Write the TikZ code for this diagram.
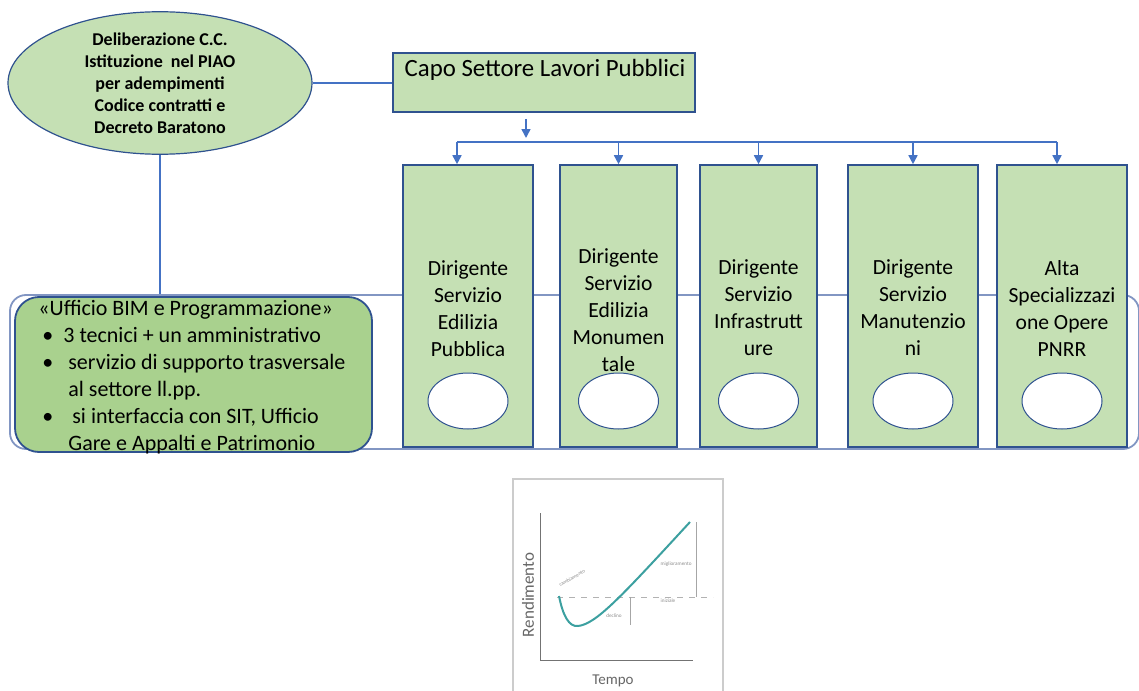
\documentclass[tikz,border=0pt]{standalone}
\usepackage{fontspec}
\setmainfont{Carlito}
\usetikzlibrary{shapes.geometric,arrows.meta}
\definecolor{boxgreen}{RGB}{197,224,180}
\definecolor{bimgreen}{RGB}{169,209,142}
\definecolor{edgeblue}{RGB}{47,82,143}
\definecolor{linkblue}{RGB}{68,114,196}
\definecolor{framegray}{RGB}{130,150,195}
\definecolor{curveteal}{RGB}{60,160,160}
\tikzset{
dirbox/.style={draw=edgeblue, fill=boxgreen, line width=0.8pt, minimum height=141pt, inner sep=0pt},
dirtext/.style={align=center, font=\fontsize{10.8}{13.5}\selectfont},
hole/.style={ellipse, draw=edgeblue, fill=white, line width=0.5pt, minimum width=40pt, minimum height=28pt, inner sep=0pt},
link/.style={draw=linkblue, line width=0.8pt},
arr/.style={link, -{Triangle[length=4.5pt,width=4.5pt]}},
charttext/.style={text=black!60, font=\fontsize{8.5}{9}\selectfont, inner sep=0pt},
tinytext/.style={text=black!45, font=\fontsize{2.6}{3}\selectfont, inner sep=0pt}
}
\newcommand{\dirigente}[5]{%
\node[dirbox, minimum width=#3] (#1) at (#2,306) {};
\node[dirtext] (#1txt) at (#2,#5) {#4};
\node[hole] (#1hole) at (#2,401) {};
}
\newcommand{\bul}[1]{\makebox[#1][l]{\hspace*{2pt}\textbullet}}

\begin{document}
\begin{tikzpicture}[x=0.5pt,y=-0.5pt]
\useasboundingbox (0,0) rectangle (1139,690);

\node[draw=framegray, line width=0.9pt, rounded corners=8pt, minimum width=564.5pt, minimum height=77pt, inner sep=0pt] (frame) at (574.5,372) {};

\node[draw=edgeblue, fill=bimgreen, line width=0.9pt, rounded corners=12pt, minimum width=178.5pt, minimum height=77.5pt, inner sep=0pt] (bim) at (193.5,374.5) {};
\node[anchor=north west, align=left, inner sep=0pt, font=\fontsize{11}{13.5}\selectfont] (bimtxt) at (38,300) {%
«Ufficio BIM e Programmazione»\\
\bul{12.5pt}3 tecnici + un amministrativo\\
\bul{15pt}servizio di supporto trasversale\\
\hspace*{15pt}al settore ll.pp.\\
\bul{17pt}si interfaccia con SIT, Ufficio\\
\hspace*{15pt}Gare e Appalti e Patrimonio};

\node[ellipse, draw=edgeblue, fill=boxgreen, line width=0.6pt, minimum width=152pt, minimum height=71pt, inner sep=0pt, align=center, font=\bfseries\fontsize{9}{11}\selectfont] (delib) at (160,83) {Deliberazione C.C.\\Istituzione\ \ nel PIAO\\per adempimenti\\Codice contratti e\\Decreto Baratono};

\node[draw=edgeblue, fill=boxgreen, line width=0.8pt, minimum width=151pt, minimum height=29.5pt, inner sep=0pt] (capo) at (544,82.5) {};
\node[font=\fontsize{12.4}{14}\selectfont, inner sep=0pt] (capotxt) at (545,70) {Capo Settore Lavori Pubblici};

\dirigente{dep}{468}{65pt}{Dirigente\\Servizio\\Edilizia\\Pubblica}{309}
\dirigente{dmon}{618.5}{58.5pt}{Dirigente\\Servizio\\Edilizia\\Monumen\\tale}{310}
\dirigente{dinf}{758.5}{58.5pt}{Dirigente\\Servizio\\Infrastrutt\\ure}{308}
\dirigente{dman}{913}{65pt}{Dirigente\\Servizio\\Manutenzio\\ni}{308}
\dirigente{dpnrr}{1062}{65pt}{Alta\\Specializzazi\\one Opere\\PNRR}{308}

\coordinate (bus) at (526,142);
\draw[link] (delib.east) -- (delib.east -| capo.west);
\draw[link] (delib.south) -- (delib.south |- frame.north);
\draw[arr] ([yshift=-3pt]capo.south -| bus) -- ([yshift=2pt]bus);
\draw[link] ([xshift=-5.5pt]dep.north |- bus) -- ([xshift=-2.5pt]dpnrr.north |- bus);
\draw[arr] ([xshift=-5.5pt]dep.north |- bus) -- ([xshift=-5.5pt]dep.north);
\draw[arr] (dmon.north |- bus) -- (dmon.north);
\draw[arr] (dinf.north |- bus) -- (dinf.north);
\draw[arr] (dman.north |- bus) -- (dman.north);
\draw[arr] ([xshift=-2.5pt]dpnrr.north |- bus) -- ([xshift=-2.5pt]dpnrr.north);

\draw[black!20, line width=0.6pt] (513,700) -- (513,479) -- (723,479) -- (723,700);
\draw[black!55, line width=0.5pt] (540,513) -- (540,660) -- (693,660);
\draw[black!30, line width=0.3pt, dashed] (557,597) -- (713,597);
\draw[black!35, line width=0.3pt] (696,522) -- (696,597);
\draw[black!35, line width=0.3pt] (630,597) -- (630,625);
\draw[curveteal, line width=1pt] (559,596) .. controls (563,616) and (569,627) .. (578,626) .. controls (596,624) and (620,598) .. (690,522);
\node[charttext, rotate=90] (rend) at (528,595) {Rendimento};
\node[charttext, font=\fontsize{7.5}{9}\selectfont] (tempo) at (613,681) {Tempo};
\node[tinytext, rotate=30] (camb) at (572,578) {cambiamento};
\node[tinytext] (migl) at (676,564) {miglioramento};
\node[tinytext] (iniz) at (668,601) {iniziale};
\node[tinytext] (decl) at (614,616) {declino};

\end{tikzpicture}
\end{document}
